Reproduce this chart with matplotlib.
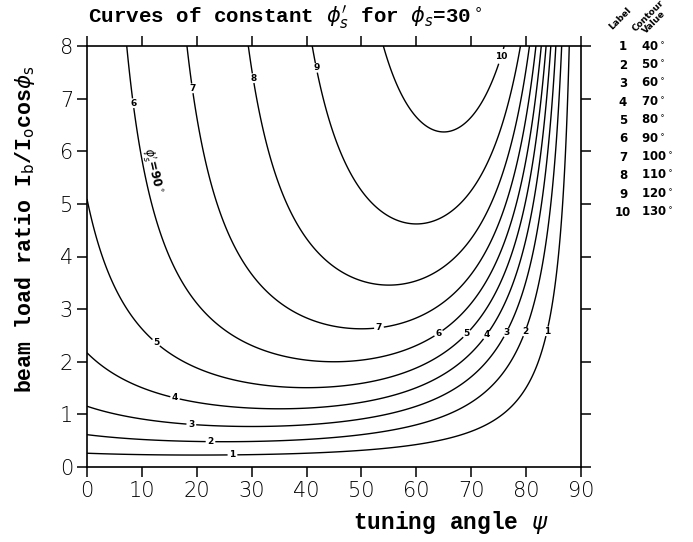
import numpy as np
import matplotlib
matplotlib.use("Agg")
import matplotlib.pyplot as plt

# synchronous phase and the contour values of phi_s'
PHI_S = 30.0
levels = [40, 50, 60, 70, 80, 90, 100, 110, 120, 130]
level_labels = ["1", "2", "3", "4", "5", "6", "7", "8", "9", "10"]

# axis ranges / ticks
psi_range = [0, 90]
y_range = [0, 8]
x_ticks = [0, 10, 20, 30, 40, 50, 60, 70, 80, 90]
y_ticks = [0, 1, 2, 3, 4, 5, 6, 7, 8]

# where the inline labels sit (level, psi, Y)
label_spots = [
    (40, 26.5, 0.24), (50, 22.5, 0.48), (60, 19, 0.8), (70, 16, 1.3),
    (80, 12.5, 2.35), (90, 7.5, 6.9), (100, 19.5, 7.2), (110, 31, 7.4),
    (120, 42.5, 7.6), (130, 74, 7.85),
    (100, 53.2, 2.64), (90, 63.8, 2.58), (80, 68.5, 2.6), (70, 72.1, 2.56),
    (60, 75.6, 2.6), (50, 79.1, 2.6), (40, 82.9, 2.6),
]

mono = "Liberation Mono"
plt.rcParams["mathtext.fontset"] = "dejavusans"

psi = np.linspace(psi_range[0], psi_range[1], 1200)
Y = np.linspace(y_range[0], y_range[1], 900)
P, YY = np.meshgrid(psi, Y)
ps = np.radians(PHI_S)
pr = np.radians(P)
# generator voltage with beam loading, Y = Ib / (I0 cos phi_s)
a = YY * np.cos(ps) * np.cos(pr)
vg = 1 + a * np.exp(1j * (np.pi / 2 - ps + pr))
phi_p = PHI_S + np.degrees(np.angle(vg))

fig = plt.figure(figsize=(6.93, 5.42), dpi=100)
ax = fig.add_axes([87 / 693, 1 - 467 / 542, (581 - 87) / 693, (467 - 46) / 542])

for lev, lab in zip(levels, level_labels):
    cs = ax.contour(P, YY, phi_p, levels=[lev], colors="black", linewidths=1.0)
    spots = [(x, y) for l, x, y in label_spots if l == lev]
    if spots:
        txts = ax.clabel(cs, fmt={lev: lab}, manual=spots, inline=True,
                         inline_spacing=2, fontsize=6.5, colors="black")
        for t in txts:
            t.set_fontweight("bold")
            t.set_rotation(0)

ax.text(12.0, 5.64, r"$\phi_s'$=90$^\circ$", rotation=-77, ha="center",
        va="center", fontsize=8.5, fontweight="bold")

ax.set_xlim(psi_range)
ax.set_ylim(y_range)
ax.set_xticks(x_ticks)
ax.set_yticks(y_ticks)
ax.tick_params(direction="out", length=7, width=1.1, top=True, right=True,
               labelsize=15, pad=3)
for lab in ax.get_xticklabels() + ax.get_yticklabels():
    lab.set_fontfamily("DejaVu Sans")
    lab.set_fontweight("light")
for sp in ax.spines.values():
    sp.set_linewidth(1.2)

fig.text(88 / 693, 1 - 17 / 542,
         r"Curves of constant $\phi_s'$ for $\phi_s$=30$^\circ$",
         ha="left", va="center", fontsize=15, family=mono, fontweight="bold")
fig.text(451 / 693, 1 - 522 / 542, r"tuning angle $\psi$",
         ha="center", va="center", fontsize=16.5, family=mono,
         fontweight="bold")
fig.text(25 / 693, 1 - 229 / 542,
         r"beam load ratio I$_\mathrm{b}$/I$_\mathrm{o}$cos$\phi_\mathrm{s}$",
         rotation=90, ha="center", va="center", fontsize=15.5, family=mono,
         fontweight="bold")

# side table of labels and contour values
fig.text(620 / 693, 1 - 19 / 542, "Label", rotation=45, ha="center",
         va="center", fontsize=6.5, fontweight="bold")
fig.text(651 / 693, 1 - 19 / 542, "Contour\nValue", rotation=45,
         ha="center", va="center", fontsize=6.5, fontweight="bold",
         linespacing=0.9)
for i, (lab, lev) in enumerate(zip(level_labels, levels)):
    yy = 1 - (47 + i * 18.4) / 542
    fig.text(623 / 693, yy, lab, ha="center", va="center", fontsize=8.5,
             fontweight="bold")
    fig.text(641 / 693, yy, f"{lev}$^\\circ$", ha="left", va="center",
             fontsize=8.5, fontweight="bold")

fig.savefig("out.png", dpi=100)
